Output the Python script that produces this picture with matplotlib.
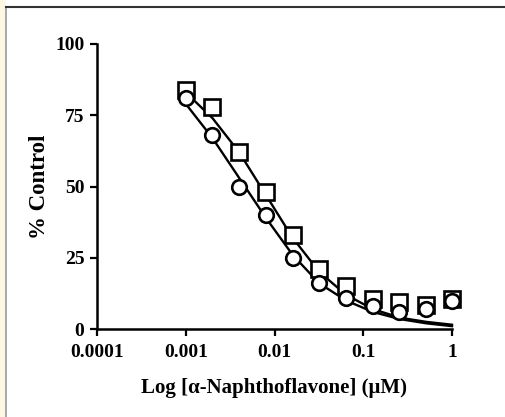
import numpy as np
import matplotlib.pyplot as plt
from matplotlib.patches import Rectangle
from matplotlib.lines import Line2D

# concentrations (uM), two-fold dilutions
conc = [0.001, 0.002, 0.004, 0.008, 0.016, 0.032, 0.064, 0.128, 0.256, 0.512, 1.0]

# measured % control
squares = [84, 78, 62, 48, 33, 21, 15, 10.5, 9.5, 8.5, 10.5]
circles = [81, 68, 50, 40, 25, 16, 11, 8, 6, 7, 10]

# fitted curves at the same concentrations
fit_sq = [83, 74, 62, 47, 32, 20, 12, 7, 4, 2.5, 1.5]
fit_ci = [79, 67, 53, 39, 26, 16, 10, 6, 3.5, 2, 1]

xticks = [0.0001, 0.001, 0.01, 0.1, 1]
xtick_labels = ['0.0001', '0.001', '0.01', '0.1', '1']
yticks = [0, 25, 50, 75, 100]

plt.rcParams['font.family'] = ['Liberation Serif', 'DejaVu Serif']
plt.rcParams['font.weight'] = 'bold'

W, H = 506, 417
fig = plt.figure(figsize=(W / 100, H / 100), dpi=100)
ax = fig.add_axes([97 / W, 1 - 329 / H, (452 - 97) / W, (329 - 44) / H])

ax.plot(conc, fit_sq, '-', color='black', lw=1.7, zorder=2, clip_on=False)
ax.plot(conc, fit_ci, '-', color='black', lw=1.7, zorder=2, clip_on=False)
ax.plot(conc, squares, 's', ms=11.5, mfc='white', mec='black', mew=1.9, zorder=3, clip_on=False)
ax.plot(conc, circles, 'o', ms=10.5, mfc='white', mec='black', mew=1.9, zorder=4, clip_on=False)

ax.set_xscale('log')
ax.set_xlim(0.0001, 1)
ax.set_ylim(0, 100)
ax.set_xticks(xticks)
ax.set_xticklabels(xtick_labels)
ax.minorticks_off()
ax.set_yticks(yticks)
ax.tick_params(axis='both', direction='out', length=5, width=1.6, labelsize=14)
ax.tick_params(axis='x', pad=6)
ax.tick_params(axis='y', pad=4)
for s in ['top', 'right']:
    ax.spines[s].set_visible(False)
for s in ['left', 'bottom']:
    ax.spines[s].set_linewidth(1.8)
ax.set_xlabel('Log [α-Naphthoflavone] (μM)', fontsize=15, fontweight='bold', labelpad=12)
ax.set_ylabel('% Control', fontsize=16.5, fontweight='bold', labelpad=4)

# page border bits
fig.patches.append(Rectangle((0, 0), 6 / W, 1, transform=fig.transFigure,
                             facecolor='#fdf8e4', edgecolor='none', zorder=0))
fig.lines.append(Line2D([6.5 / W, 6.5 / W], [0, 1 - 7 / H], transform=fig.transFigure,
                        color='#999999', lw=1.2))
fig.lines.append(Line2D([6 / W, 1], [1 - 7 / H, 1 - 7 / H], transform=fig.transFigure,
                        color='#333333', lw=1.5))

fig.savefig('out.png', dpi=100)
